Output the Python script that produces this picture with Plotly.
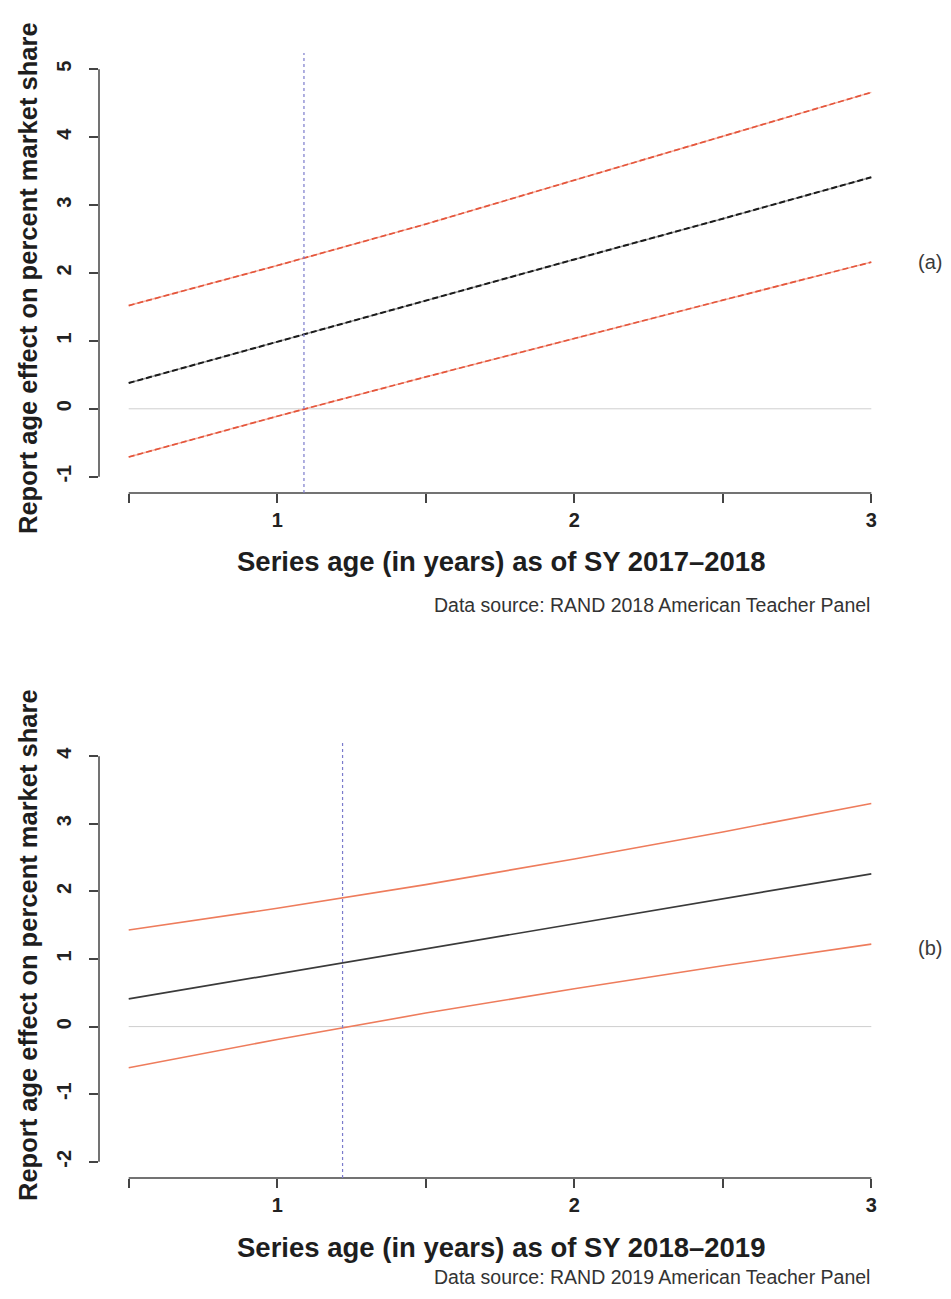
import plotly.graph_objects as go

# ---------------- data ----------------
x_age = [0.5, 1.0, 1.5, 2.0, 2.5, 3.0]

# panel (a): SY 2017-2018
est_a = [0.38, 0.99, 1.59, 2.20, 2.80, 3.41]
upper_a = [1.52, 2.11, 2.72, 3.37, 4.01, 4.66]
lower_a = [-0.71, -0.11, 0.47, 1.04, 1.60, 2.16]
jn_a = 1.09

# panel (b): SY 2018-2019
est_b = [0.41, 0.78, 1.15, 1.52, 1.89, 2.26]
upper_b = [1.43, 1.75, 2.10, 2.48, 2.88, 3.30]
lower_b = [-0.61, -0.19, 0.20, 0.56, 0.90, 1.22]
jn_b = 1.22

zero_x = [0.5, 3.0]
zero_y = [0, 0]

x_tickvals = [0.5, 1.0, 1.5, 2.0, 2.5, 3.0]
x_ticktext = ["", "1", "", "2", "", "3"]
y_ticks_a = [-1, 0, 1, 2, 3, 4, 5]
y_ticktext_a = ["-1", "0", "1", "2", "3", "4", "5"]
y_ticks_b = [-2, -1, 0, 1, 2, 3, 4]
y_ticktext_b = ["-2", "-1", "0", "1", "2", "3", "4"]

x_title_a = "Series age (in years) as of SY 2017–2018"
x_title_b = "Series age (in years) as of SY 2018–2019"
y_title = "Report age effect on percent market share"
source_a = "Data source: RAND 2018 American Teacher Panel"
source_b = "Data source: RAND 2019 American Teacher Panel"

# ---------------- layout geometry ----------------
OFF = 8  # default page body margin
W, H = 951 - 2 * OFF, 1299 - 2 * OFF
L, R, T, B = 99 - OFF, 50 - OFF, 53 - OFF, 121 - OFF
PW = W - L - R
PH = H - T - B


def px_x(p):
    return (p - OFF - L) / PW


def px_y(p):
    return (H - B - (p - OFF)) / PH


FONT = "Liberation Sans, Arial, Helvetica, sans-serif"
RED = "#e4553b"
RED_LIGHT = "#f6b3a4"
AX = "#444444"

fig = go.Figure()

# ---- panel (a) ----
fig.add_trace(go.Scatter(x=zero_x, y=zero_y, mode="lines", line=dict(color="#cfcfcf", width=1),
                         xaxis="x", yaxis="y", hoverinfo="skip"))
for ys in (upper_a, lower_a):
    fig.add_trace(go.Scatter(x=x_age, y=ys, mode="lines", line=dict(color=RED_LIGHT, width=1.5),
                             xaxis="x", yaxis="y"))
    fig.add_trace(go.Scatter(x=x_age, y=ys, mode="lines", line=dict(color=RED, width=1.7, dash="6px,3px"),
                             xaxis="x", yaxis="y"))
fig.add_trace(go.Scatter(x=x_age, y=est_a, mode="lines", line=dict(color="#9a9a9a", width=1.5),
                         xaxis="x", yaxis="y"))
fig.add_trace(go.Scatter(x=x_age, y=est_a, mode="lines", line=dict(color="#1a1a1a", width=2, dash="6px,3px"),
                         xaxis="x", yaxis="y"))

# ---- panel (b) ----
fig.add_trace(go.Scatter(x=zero_x, y=zero_y, mode="lines", line=dict(color="#cfcfcf", width=1),
                         xaxis="x2", yaxis="y2", hoverinfo="skip"))
for ys in (upper_b, lower_b):
    fig.add_trace(go.Scatter(x=x_age, y=ys, mode="lines", line=dict(color="#ee7c5c", width=1.6),
                             xaxis="x2", yaxis="y2"))
fig.add_trace(go.Scatter(x=x_age, y=est_b, mode="lines", line=dict(color="#3a3a3a", width=1.7),
                         xaxis="x2", yaxis="y2"))

dom_a = [px_y(493), 1.0]
dom_b = [0.0, px_y(740)]

xaxis_common = dict(range=[0.4, 3.1], showgrid=False, zeroline=False, showline=False,
                    tickvals=x_tickvals, ticktext=x_ticktext, ticks="outside", ticklen=9,
                    tickwidth=1.5, tickcolor=AX,
                    tickfont=dict(family=FONT, size=20, color="#222222", weight="bold"))
yaxis_common = dict(showgrid=False, zeroline=False, showline=False, ticks="outside", ticklen=9,
                    tickwidth=1.5, tickcolor=AX, tickangle=-90, ticklabelstandoff=10,
                    tickfont=dict(family=FONT, size=20, color="#222222", weight="bold"))

fig.update_layout(
    width=W, height=H,
    margin=dict(l=L, r=R, t=T, b=B),
    paper_bgcolor="white", plot_bgcolor="white",
    showlegend=False,
    xaxis=dict(domain=[0, 1], anchor="y", **xaxis_common),
    yaxis=dict(domain=dom_a, anchor="x", range=[-1.24, 5.24], tickvals=y_ticks_a,
               ticktext=y_ticktext_a, **yaxis_common),
    xaxis2=dict(domain=[0, 1], anchor="y2", **xaxis_common),
    yaxis2=dict(domain=dom_b, anchor="x2", range=[-2.24, 4.24], tickvals=y_ticks_b,
                ticktext=y_ticktext_b, **yaxis_common),
)

shapes = []
# axis lines (R style: spanning the tick range only)
shapes.append(dict(type="line", xref="x domain", yref="y", x0=0, x1=0, y0=-1, y1=5,
                   line=dict(color=AX, width=1.5)))
shapes.append(dict(type="line", xref="x", yref="y domain", x0=0.5, x1=3, y0=0, y1=0,
                   line=dict(color=AX, width=1.5)))
shapes.append(dict(type="line", xref="x2 domain", yref="y2", x0=0, x1=0, y0=-2, y1=4,
                   line=dict(color=AX, width=1.5)))
shapes.append(dict(type="line", xref="x2", yref="y2 domain", x0=0.5, x1=3, y0=0, y1=0,
                   line=dict(color=AX, width=1.5)))
# Johnson-Neyman vertical lines
shapes.append(dict(type="line", xref="x", yref="y domain", x0=jn_a, x1=jn_a, y0=0, y1=1,
                   line=dict(color="#7b7bcc", width=1.2, dash="3px,3px")))
shapes.append(dict(type="line", xref="x2", yref="y2 domain", x0=jn_b, x1=jn_b, y0=0, y1=1,
                   line=dict(color="#7b7bcc", width=1.2, dash="3px,3px")))
fig.update_layout(shapes=shapes)

ann = []
title_font = dict(family=FONT, size=27.5, color="#1e1e1e", weight="bold")
ytitle_font = dict(family=FONT, size=25.5, color="#1e1e1e", weight="bold")
src_font = dict(family=FONT, size=19.5, color="#333333")
lab_font = dict(family=FONT, size=20, color="#3a3a3a")


def add_text(text, x, y, font, xanchor="center", angle=0):
    ann.append(dict(text=text, x=px_x(x), y=px_y(y), xref="paper", yref="paper",
                    xanchor=xanchor, yanchor="middle", showarrow=False, font=font,
                    textangle=angle))


add_text(y_title, 28, 278, ytitle_font, angle=-90)
add_text(y_title, 28, 945, ytitle_font, angle=-90)
add_text(x_title_a, 501, 561, title_font)
add_text(x_title_b, 501, 1247, title_font)
add_text(source_a, 872, 605, src_font, xanchor="right")
add_text(source_b, 872, 1277, src_font, xanchor="right")
add_text("(a)", 930, 262, lab_font)
add_text("(b)", 930, 948, lab_font)
fig.update_layout(annotations=ann)

fig.write_html("out.html")
